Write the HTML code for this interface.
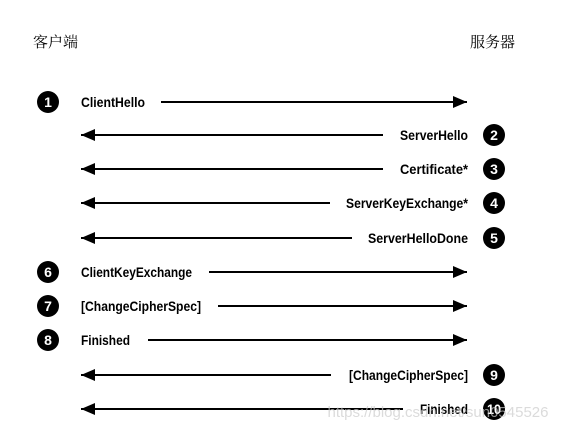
<!DOCTYPE html>
<html><head><meta charset="utf-8"><style>
html,body{margin:0;padding:0;background:#fff;}
svg{display:block}
.t{font-family:"Liberation Sans Narrow","Liberation Sans",sans-serif;font-weight:bold;font-size:14px;fill:#000}
.n{font-family:"Liberation Sans Narrow","Liberation Sans",sans-serif;font-weight:bold;font-size:14px;fill:#fff}
.h{font-family:"Liberation Serif","Noto Serif CJK SC",serif;font-size:15px;fill:#000}
</style></head><body>
<svg width="566" height="431" viewBox="0 0 566 431">
<defs>
<marker id="a" markerWidth="14" markerHeight="12" refX="14" refY="6" orient="auto" markerUnits="userSpaceOnUse"><path d="M0,0 L14,6 L0,12 z" fill="#000"/></marker>
</defs>
<text class="h" x="33" y="47">客户端</text>
<text class="h" x="470" y="47">服务器</text>
<g stroke="#000" stroke-width="2" marker-end="url(#a)">
<line x1="161" y1="102" x2="467" y2="102"/>
<line x1="383" y1="135" x2="81" y2="135"/>
<line x1="383" y1="169" x2="81" y2="169"/>
<line x1="330" y1="203" x2="81" y2="203"/>
<line x1="352" y1="238" x2="81" y2="238"/>
<line x1="209" y1="272" x2="467" y2="272"/>
<line x1="218" y1="306" x2="467" y2="306"/>
<line x1="148" y1="340" x2="467" y2="340"/>
<line x1="331" y1="375" x2="81" y2="375"/>
<line x1="403" y1="409" x2="81" y2="409"/>
</g>
<g class="t">
<text x="81" y="107" textLength="64" lengthAdjust="spacingAndGlyphs">ClientHello</text>
<text x="400" y="140" textLength="68" lengthAdjust="spacingAndGlyphs">ServerHello</text>
<text x="400" y="174" textLength="68" lengthAdjust="spacingAndGlyphs">Certificate*</text>
<text x="346" y="208" textLength="122" lengthAdjust="spacingAndGlyphs">ServerKeyExchange*</text>
<text x="368" y="243" textLength="100" lengthAdjust="spacingAndGlyphs">ServerHelloDone</text>
<text x="81" y="277" textLength="111" lengthAdjust="spacingAndGlyphs">ClientKeyExchange</text>
<text x="81" y="311" textLength="120" lengthAdjust="spacingAndGlyphs">[ChangeCipherSpec]</text>
<text x="81" y="345" textLength="49" lengthAdjust="spacingAndGlyphs">Finished</text>
<text x="349" y="380" textLength="119" lengthAdjust="spacingAndGlyphs">[ChangeCipherSpec]</text>
<text x="420" y="414" textLength="48" lengthAdjust="spacingAndGlyphs">Finished</text>
</g>
<g fill="#000">
<circle cx="48" cy="102" r="11"/><circle cx="494" cy="135" r="11"/><circle cx="494" cy="169" r="11"/>
<circle cx="494" cy="203" r="11"/><circle cx="494" cy="238" r="11"/><circle cx="48" cy="272" r="11"/>
<circle cx="48" cy="306" r="11"/><circle cx="48" cy="340" r="11"/><circle cx="494" cy="375" r="11"/>
<circle cx="494" cy="409" r="11"/>
</g>
<g class="n" text-anchor="middle">
<text x="48" y="107">1</text><text x="494" y="140">2</text><text x="494" y="174">3</text>
<text x="494" y="208">4</text><text x="494" y="243">5</text><text x="48" y="277">6</text>
<text x="48" y="311">7</text><text x="48" y="345">8</text><text x="494" y="380">9</text>
<text x="494" y="414" textLength="14" lengthAdjust="spacingAndGlyphs">10</text>
</g>
<text x="438" y="417" font-family="Liberation Sans,sans-serif" font-size="15" fill="#ccc" fill-opacity="0.7" text-anchor="middle">https://blog.csdn.net/sun0545526</text>
</svg>
</body></html>
